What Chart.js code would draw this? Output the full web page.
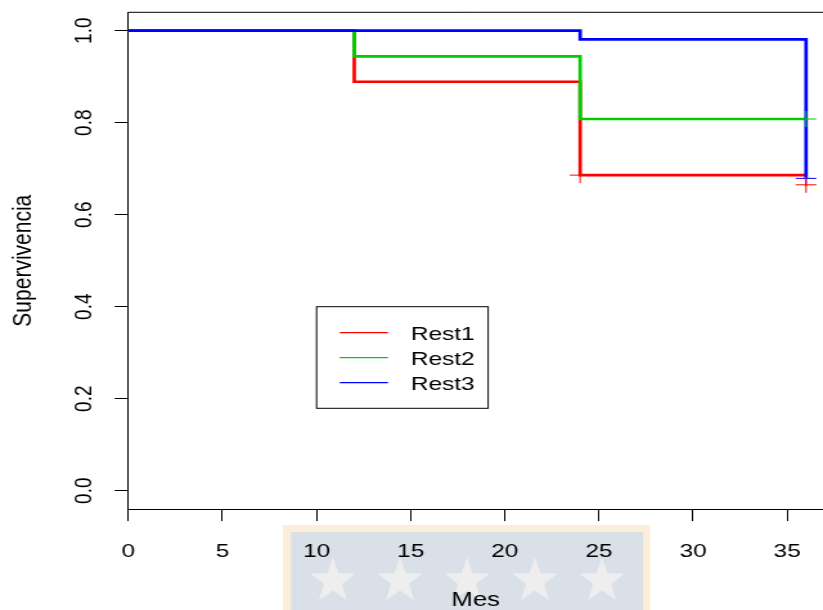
<!DOCTYPE html>
<html>
<head>
<meta charset="utf-8">
<script src="https://cdn.jsdelivr.net/npm/chart.js@4"></script>
<style>
  html, body { margin: 0; padding: 0; background: #fff; overflow: hidden; }
  #wrap { width: 640px; height: 610px; transform: scaleX(1.2859); transform-origin: 0 0; }
</style>
</head>
<body>
<div id="wrap"><canvas id="surv" width="640" height="610"></canvas></div>
<script>
// Kaplan-Meier curves (time in months, survival)
const groups = ['Rest1', 'Rest2', 'Rest3'];
const colors = ['#ff0000', '#00cd00', '#0000ff'];

const rest1Time = [0, 12, 24, 36];
const rest1Surv = [1, 0.889, 0.686, 0.686];
const rest2Time = [0, 12, 24, 36];
const rest2Surv = [1, 0.944, 0.808, 0.808];
const rest3Time = [0, 24, 36];
const rest3Surv = [1, 0.981, 0.679];

// censored observations (+ marks)
const cens1Time = [24, 36];
const cens1Surv = [0.686, 0.665];
const cens2Time = [36];
const cens2Surv = [0.808];
const cens3Time = [36];
const cens3Surv = [0.679];

const xTicks = [0, 5, 10, 15, 20, 25, 30, 35];
const yTicks = [0, 0.2, 0.4, 0.6, 0.8, 1.0];

const FONT = '"Liberation Sans", Arial, Helvetica, sans-serif';
const SX = 1.2859;

const pts = (xs, ys) => xs.map((x, i) => ({ x, y: ys[i] }));

const curves = [[rest1Time, rest1Surv], [rest2Time, rest2Surv], [rest3Time, rest3Surv]];
const cens = [[cens1Time, cens1Surv], [cens2Time, cens2Surv], [cens3Time, cens3Surv]];

const datasets = [];
curves.forEach((c, i) => datasets.push({
    label: groups[i],
    data: pts(c[0], c[1]),
    borderColor: colors[i],
    borderWidth: 2.7,
    stepped: 'before',
    pointRadius: 0,
    fill: false,
    clip: false,
    order: 3 - i
}));
cens.forEach((c, i) => datasets.push({
    label: groups[i] + ' cens',
    data: pts(c[0], c[1]),
    showLine: false,
    pointStyle: 'cross',
    pointRadius: 8,
    pointBorderWidth: 1,
    pointBorderColor: colors[i],
    borderColor: colors[i],
    clip: false,
    order: 0
}));

// thesis watermark behind the x axis labels (drawn in screen pixels)
const watermark = {
    id: 'watermark',
    beforeDraw(chart) {
        const ctx = chart.ctx;
        ctx.save();
        ctx.scale(1 / SX, 1);
        ctx.fillStyle = '#fcefd9';
        ctx.fillRect(283, 525, 367, 90);
        ctx.fillStyle = '#d9e0e8';
        ctx.fillRect(291, 532, 352, 90);
        ctx.fillStyle = '#eeeeee';
        [333, 400, 467, 535, 602].forEach(cx => {
            const cy = 581, R = 24, r = 9.6;
            ctx.beginPath();
            for (let k = 0; k < 10; k++) {
                const a = -Math.PI / 2 + k * Math.PI / 5;
                const rad = k % 2 ? r : R;
                ctx.lineTo(cx + rad * Math.cos(a), cy + rad * Math.sin(a));
            }
            ctx.closePath();
            ctx.fill();
        });
        ctx.restore();
    }
};

const extras = {
    id: 'extras',
    afterDraw(chart) {
        const ctx = chart.ctx;
        const { x, y } = chart.scales;
        const area = chart.chartArea;
        ctx.save();
        // top of the box
        ctx.strokeStyle = '#000';
        ctx.lineWidth = 1;
        ctx.beginPath();
        ctx.moveTo(area.left, area.top);
        ctx.lineTo(area.right, area.top);
        ctx.stroke();

        // rotated y tick labels
        ctx.fillStyle = '#000';
        ctx.font = '19px ' + FONT;
        ctx.textAlign = 'center';
        ctx.textBaseline = 'middle';
        yTicks.forEach(v => {
            ctx.save();
            ctx.translate(66, y.getPixelForValue(v));
            ctx.rotate(-Math.PI / 2);
            ctx.fillText(v.toFixed(1), 0, 0);
            ctx.restore();
        });

        // legend box at (10, 0.4)
        const lx = x.getPixelForValue(10);
        const ly = y.getPixelForValue(0.4);
        const lw = 133.4, lh = 101.6;
        ctx.fillStyle = '#fff';
        ctx.fillRect(lx, ly, lw, lh);
        ctx.strokeStyle = '#000';
        ctx.strokeRect(lx, ly, lw, lh);
        ctx.textAlign = 'left';
        groups.forEach((g, i) => {
            const rowY = ly + 28 + i * 25;
            ctx.strokeStyle = colors[i];
            ctx.lineWidth = 1.2;
            ctx.beginPath();
            ctx.moveTo(lx + 18, rowY - 2);
            ctx.lineTo(lx + 55.5, rowY - 2);
            ctx.stroke();
            ctx.fillStyle = '#000';
            ctx.fillText(g, lx + 73.3, rowY);
        });
        ctx.restore();
    }
};

new Chart(document.getElementById('surv'), {
    type: 'line',
    data: { datasets },
    plugins: [watermark, extras],
    options: {
        responsive: false,
        animation: false,
        layout: { autoPadding: false, padding: { top: 12.3, left: 0, right: 0, bottom: 0 } },
        plugins: { legend: { display: false }, tooltip: { enabled: false } },
        scales: {
            x: {
                type: 'linear',
                min: 0,
                max: 36.9,
                afterBuildTicks: s => { s.ticks = xTicks.map(v => ({ value: v })); },
                afterFit: s => { s.height = 100.9; s.paddingLeft = 0; s.paddingRight = 0; },
                grid: { drawOnChartArea: false, drawTicks: true, tickLength: 12, color: '#000' },
                border: { display: true, color: '#000', width: 1 },
                ticks: { color: '#000', font: { family: FONT, size: 19 }, padding: 19, maxRotation: 0, autoSkip: false },
                title: { display: true, text: 'Mes', color: '#000', font: { family: FONT, size: 20, lineHeight: 1 }, padding: { top: 0, bottom: 0 } }
            },
            y: {
                type: 'linear',
                min: -0.04,
                max: 1.04,
                afterBuildTicks: s => { s.ticks = yTicks.map(v => ({ value: v })); },
                afterFit: s => { s.width = 99.8; s.paddingTop = 0; s.paddingBottom = 0; },
                grid: { drawOnChartArea: false, drawTicks: true, tickLength: 10.7, color: '#000' },
                border: { display: true, color: '#000', width: 1 },
                ticks: { display: false },
                title: { display: true, text: 'Supervivencia', color: '#000', font: { family: FONT, size: 21, lineHeight: 1 }, padding: { top: 7.5, bottom: 0 } }
            }
        }
    }
});
</script>
</body>
</html>
